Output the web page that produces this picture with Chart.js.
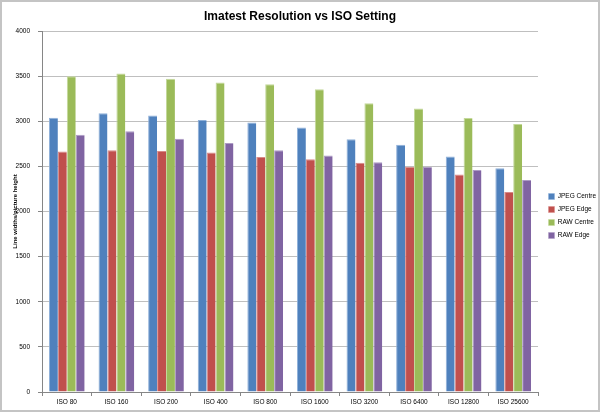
<!DOCTYPE html>
<html>
<head>
<meta charset="utf-8">
<script src="https://cdn.jsdelivr.net/npm/chart.js@4.4.0/dist/chart.umd.min.js"></script>
<style>
  html, body { margin: 0; padding: 0; background: #fff; }
  .chart { width: 600px; height: 412px; position: relative; }
</style>
</head>
<body>
<div class="chart"><canvas id="iso-chart"></canvas></div>
<script>
  const isoLabels = ['ISO 80', 'ISO 160', 'ISO 200', 'ISO 400', 'ISO 800', 'ISO 1600', 'ISO 3200', 'ISO 6400', 'ISO 12800', 'ISO 25600'];
  const jpegCentre = [3040, 3090, 3065, 3015, 2985, 2930, 2800, 2740, 2610, 2480];
  const jpegEdge   = [2665, 2680, 2670, 2655, 2605, 2580, 2540, 2495, 2410, 2215];
  const rawCentre  = [3500, 3530, 3470, 3430, 3410, 3355, 3200, 3140, 3035, 2970];
  const rawEdge    = [2850, 2890, 2805, 2760, 2680, 2620, 2545, 2495, 2460, 2350];

  const FONT = "'Liberation Sans', Arial, sans-serif";

  // grey frame round the whole chart, like the spreadsheet chart border
  const framePlugin = {
    id: 'frame',
    afterLayout(chart) {
      // nudge legend right of the plot and a bit lower
      chart.legend.left += 4;
      chart.legend.right += 4;
      chart.legend.top += 10;
      chart.legend.bottom += 10;
    },
    afterDraw(chart) {
      const ctx = chart.ctx;
      ctx.save();
      ctx.strokeStyle = '#c4c4c4';
      ctx.lineWidth = 2;
      ctx.strokeRect(1, 1, chart.width - 2, chart.height - 2);
      ctx.restore();
    }
  };

  const legendWidth = {
    id: 'legendWidth',
    beforeInit(chart) {
      const origFit = chart.legend.fit;
      chart.legend.fit = function () {
        origFit.bind(chart.legend)();
        this.width = 62;
      };
    }
  };

  function makeSet(label, values, color, edge) {
    return {
      label: label,
      data: values,
      backgroundColor: color,
      borderColor: edge,
      borderWidth: { top: 1, left: 1, right: 0, bottom: 0 },
      borderSkipped: false,
      categoryPercentage: 0.72,
      barPercentage: 1.0
    };
  }

  new Chart(document.getElementById('iso-chart'), {
    type: 'bar',
    data: {
      labels: isoLabels,
      datasets: [
        makeSet('JPEG Centre', jpegCentre, '#4f81bd', '#8fb0d9'),
        makeSet('JPEG Edge', jpegEdge, '#c0504d', '#d98a88'),
        makeSet('RAW Centre', rawCentre, '#9bbb59', '#c3d89a'),
        makeSet('RAW Edge', rawEdge, '#8064a2', '#ad9bc4')
      ]
    },
    options: {
      responsive: true,
      maintainAspectRatio: false,
      animation: false,
      layout: { padding: { left: 0, right: 0, top: 0, bottom: 0 } },
      plugins: {
        title: {
          display: true,
          text: 'Imatest Resolution vs ISO Setting',
          color: '#000',
          font: { family: FONT, size: 12, weight: 'bold' },
          padding: { top: 9, bottom: 7.6 }
        },
        legend: {
          position: 'right',
          labels: {
            color: '#000',
            font: { family: FONT, size: 6.5 },
            boxWidth: 6,
            boxHeight: 6,
            padding: 6.5
          }
        },
        tooltip: { enabled: false }
      },
      scales: {
        x: {
          grid: {
            display: true,
            drawOnChartArea: false,
            drawTicks: true,
            tickLength: 4,
            color: '#868686',
            offset: true
          },
          border: { color: '#868686' },
          ticks: {
            color: '#000',
            font: { family: FONT, size: 6.5 },
            padding: 2,
            maxRotation: 0,
            autoSkip: false
          },
          afterFit: function (s) { s.height = 20; }
        },
        y: {
          min: 0,
          max: 4000,
          grid: {
            color: '#bfbfbf',
            tickColor: '#868686',
            tickLength: 4
          },
          border: { color: '#868686' },
          ticks: {
            stepSize: 500,
            color: '#000',
            font: { family: FONT, size: 6.5 },
            padding: 8,
            callback: function (v) { return String(v); }
          },
          title: {
            display: true,
            text: 'Line widths/picture height',
            color: '#000',
            font: { family: FONT, size: 6, weight: 'bold' },
            padding: { top: 12, bottom: 0 }
          },
          afterFit: function (s) { s.width = 42; }
        }
      }
    },
    plugins: [legendWidth, framePlugin]
  });
</script>
</body>
</html>
